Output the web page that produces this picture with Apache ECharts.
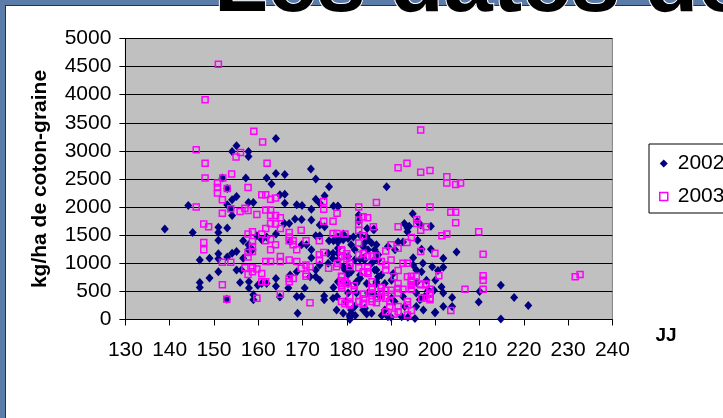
<!DOCTYPE html>
<html>
<head>
<meta charset="utf-8">
<script src="https://cdn.jsdelivr.net/npm/echarts@6/dist/echarts.min.js"></script>
<style>
html,body{margin:0;padding:0;background:#5B7BA9;overflow:hidden;}
#wrap{position:relative;width:723px;height:418px;overflow:hidden;}
#panel{position:absolute;left:5px;top:5px;width:760px;height:460px;background:#fff;border:1px solid #303030;box-sizing:border-box;}
#chart{position:absolute;left:0;top:0;width:723px;height:418px;}
</style>
</head>
<body>
<div id="wrap"><div id="panel"></div><div id="chart"></div></div>
<script>
var titleText = "Les dates de semis";
var yAxisTitle = "kg/ha de coton-graine";
var xAxisTitle = "JJ";
var seriesNames = ["2002", "2003"];

var data2002 = [
[164,3220],[155.1,3090],[154.1,2990],[157.8,2990],[157.8,2900],[171.9,2680],[164,2600],[166,2580],[151.9,2520],[157.2,2520],[161.9,2520],[173,2500],
[189,2360],[194.9,1880],[193,1710],[194.1,1660],[199,1660],[186,1600],[196,1410],[199,1250],[204.8,1200],[196.9,1250],[201.8,1090],[201.8,930],[214.8,610],[217.8,390],[221,250],[214.8,10],[209.8,310],[210,500],[201.8,470],[203.8,390],[203.8,230],[201.8,230],[200,130],[200,700],[195.8,660],
[153,2330],[144.2,2030],[153,2040],[153.8,1970],[154.1,1850],[138.9,1610],[145.2,1550],[151,1640],[151,1550],[153,1630],[151,1410],[151,1170],[151,1080],[149,1090],[146.8,1060],[153,1110],[154.1,1180],[151,850],[149,740],[146.8,660],[146.8,570],[152.9,360],
[155.1,1210],[163,2410],[176,2360],[175,2200],[155.1,2190],[154.1,2130],[157.8,2080],[158.9,2080],[166,2230],[164.9,2220],[166,2070],[168.7,2040],[169.9,2030],[173,2140],[173.9,2070],[177,2020],[178,2020],
[155.1,880],[156.2,880],[157.8,1330],[157.8,1240],[158.7,1240],[156.6,1400],[156.6,1090],[159.7,1490],[160.8,1420],[161.9,1470],[164,1520],[165.9,1710],[167,1710],[168.3,1790],[169.8,1780],[167.2,1390],[169.8,1330],[170.9,1330],[172,1770],[172,1960],[172,1240],[172,1100],[173.9,1680],[175,1650],[176,1400],[177,1400],[178,1400],[173,1490],[173.9,1490],[175.8,1180],[176.9,1180],[178,1180],[178,1060],[176.8,1090],[175.8,1000],[173.9,970],[173,880],[171.7,760],[173,760],[173.9,700],[168.7,850],[167.2,790],[168.7,410],[164,730],[164,590],[161.9,640],[160.8,640],[157.9,670],[157.9,560],[159.9,610],[155.9,660],[158.9,440],[158.9,350],[164.9,400],[166.8,560],[169.8,410],[170.5,560],[174.9,420],[174.9,350],[176.9,380],[177,570],[168.9,110],[177.8,410],[179.8,320],[180.7,50],[181,170],[183.7,170],[184.5,100],[180.3,800],[182.2,640],[183,730],[183.7,1300],[184.8,1420],[185.6,1360],[184.6,1620],[186.2,1600],[183,1500],[184.5,1470],[183,1070],[184,1060],[186.2,1060],[187.1,1150],[179.2,1520],[179.2,1420],[180.3,1440],[181.5,1470],[179.2,940],[180.3,940],[186.7,880],[187.1,760],[186.7,640],
[178,2010],[182.7,1860],[182.7,1750],[195.9,1750],[196.7,1680],[193.7,1630],[193.7,1560],[191.6,1380],[192.7,1380],[189.3,1300],[190.9,1240],[195,1100],[195,970],[195.7,880],[196.9,850],[199.3,940],[200.6,870],[201.4,580],[199.7,520],[199.9,120],
[178,1470],[178,1380],[178,1270],[181,1330],[181.8,1240],[184,1360],[184.8,1240],[186.3,1240],[186.7,1330],[180.3,1120],[181.8,1060],[183.7,1090],[185.6,1000],[187.1,1060],[179.6,880],[181,850],[183,790],[186.3,880],[187.8,790],[178,670],[180.3,640],[182.2,670],[184.5,640],[186.7,670],[188.6,640],[190.1,700],[190.5,820],[180.3,470],[182.2,470],[184.8,470],[186.3,440],[187.5,410],[190.1,380],[190.8,320],[192.7,410],[193.1,230],[195.7,470],[196.9,380],[195.7,230],[197.3,170],[177.7,170],[179.2,110],[180.7,80],[181.8,230],[184.1,200],[185.6,110],[188.6,170],[189.3,50],[192.4,50],[195.4,20],[197.6,410],[198.4,520],[198,700],[197.2,1000],[196.5,350],
[180.7,0],[181.1,100],[181.9,70],[187.9,70],[190,40],[193.8,40]
];

var data2003 = [
[151,4540],[148,3910],[159,3350],[161,3160],[146,3020],[156,2970],[155,2890],[148,2780],[162,2780],[154,2590],[148,2520],[152,2520],
[196.7,3370],[191.6,2700],[193.6,2780],[196.7,2620],[198.8,2650],[202.6,2540],[202.6,2430],[204.6,2400],[205.7,2430],[186.7,2080],[198.8,2000],[203.5,1910],[204.6,1910],[204.6,1720],[195.8,1780],[195.8,1710],[196.7,1590],[197.9,1650],[191.6,1650],[209.8,1560],[201.5,1490],[202.6,1520],[194.6,1460],[193.6,1370],[199.9,1180],[210.8,1160],[196.7,1210],[200.8,780],[210.8,780],[210.8,700],[210.8,540],[206.7,540],[231.6,760],[232.7,800],[203.5,160],[196.9,380],[197.9,380],[198.8,350],[198.8,470],[194.6,700],[194.6,610],[196.6,630],[197.9,630],
[150.8,2430],[150.8,2350],[150.8,2250],[153,2330],[151.9,2130],[146,2000],[153.8,1970],[151.9,1890],[147.7,1700],[148.8,1650],[147.7,1370],[147.7,1240],[151.9,1020],[153.8,1020],[151.9,620],[152.9,360],
[157.7,2350],[160.8,2220],[161.7,2220],[162.8,2140],[163.9,2160],[155.9,1920],[157,1980],[157.7,1940],[159.7,1870],[161.7,1950],[162.8,1950],[162.8,1850],[163.9,1850],[165,1810],[162.8,1710],[163.9,1700],[161.7,1620],[160.8,1520],[165,1620],[158.7,1560],[157.7,1520],[167,1550],[167,1470],[169.7,1590],[158.7,1390],[158.7,1300],[158.7,1210],[161.7,1400],[162.8,1430],[163.9,1330],[162.8,1240],[167,1400],[167.9,1400],[167.9,1330],[168.7,1240],[170.8,1400],[173.8,1400],[157.7,1190],[157.7,1110],[161.7,1030],[162.8,1030],[165,1120],[165,1030],[167,1060],[168.7,1030],[170.8,970],[170.8,810],[170.8,770],[171.7,940],[169.7,910],[157,920],[158.7,920],[158.7,850],[159.7,900],[160.8,820],[157.7,800],[160.8,670],[161.7,670],[167,730],[167.9,730],[167,670],[159.7,380],[165,450],[171.7,300],[173.8,1150],[173.8,1060],[174.8,1190],[174.8,2100],[174.8,1960],[174.8,1750],[176.9,1750],[177.8,1890],[175.9,910],[176.9,1530],[177.8,1530],[178.9,1220],[179.6,1120],[180,1170],[180,1080],[178.9,760],[178.9,640],[178.9,560],[180,640],[177.7,940],[180.7,940],[182.7,2000],[182.7,1770],[183.7,1830],[184.7,1810],[182.7,1690],[182.7,1590],[183.7,1490],[182.7,1360],[182.7,1150],[183.7,1180],[184.7,1120],[186,1650],[182.7,920],[184.7,920],[183.7,840],[184.7,850],[185.7,560],[185.7,470],[185.7,370],[186.7,300],[183.7,450],[182.7,320],[183.7,270],[181.7,600],[181.7,530],[180.7,420],[180.7,260],
[179.6,1520],[190,1330],[188.8,1220],[191.6,1270],[178.8,1240],[178.8,1130],[185.7,1130],[186.7,1130],[187.8,1030],[188.8,970],[188.8,880],[190,1060],[192.7,1000],[193.7,1000],[177.9,1000],[180.7,1000],[183.8,850],[184.8,820],[191.6,870],[194.6,770],[195.7,770],[190.7,760],[178.8,770],[178.8,690],[178.8,600],[179.6,680],[185.7,670],[185.7,540],[183.8,450],[183.8,370],[187.8,570],[187.8,500],[188.8,520],[190,520],[190,450],[191.6,640],[191.6,550],[191.6,470],[193.7,760],[194.6,670],[192.7,540],[196.7,620],[197.8,620],[198.8,540],[198.8,450],[198.8,380],[194.6,620],[194.6,540],[178.8,320],[179.6,280],[180.7,280],[182.7,320],[183.8,290],[185.7,320],[186.9,380],[187.8,410],[188.8,380],[189.7,320],[189.7,230],[191.6,230],[191.6,140],[188.8,140],[193.7,320],[193.7,260],[194.6,160],[193.7,80],[190.7,100]
];

var xMin = 130, xMax = 240, xStep = 10;
var yMin = 0, yMax = 5000, yStep = 500;

var chart = echarts.init(document.getElementById('chart'));
var font = 'Liberation Sans, Arial, sans-serif';
chart.setOption({
  backgroundColor: 'transparent',
  animation: false,
  textStyle: { fontFamily: font },
  graphic: [
    { type: 'text', z: 20, left: 213, top: -58,
      style: { text: titleText, font: 'bold 88px ' + font, fill: '#000', stroke: '#fff', lineWidth: 2 } }
  ],
  grid: { left: 125.4, right: 110.6, top: 38.5, bottom: 98.5, show: true, z: 1,
          backgroundColor: '#C0C0C0', borderColor: '#808080', borderWidth: 1 },
  legend: {
    orient: 'vertical', left: 649, top: 144, z: 5,
    padding: [9, 60, 6, 10], itemGap: 12,
    itemWidth: 8, itemHeight: 8,
    backgroundColor: '#fff', borderColor: '#000', borderWidth: 1,
    textStyle: { fontSize: 21, color: '#000', fontFamily: font, padding: [0, 0, 0, 5] },
    data: [
      { name: seriesNames[0], icon: 'diamond', itemStyle: { color: '#000080' } },
      { name: seriesNames[1], icon: 'rect', itemStyle: { color: 'rgba(0,0,0,0)', borderColor: '#FF00FF', borderWidth: 1.5 } }
    ]
  },
  xAxis: {
    type: 'value', min: xMin, max: xMax, interval: xStep, z: 5,
    name: xAxisTitle, nameLocation: 'end', nameGap: 43,
    nameTextStyle: { fontSize: 19, fontWeight: 'bold', color: '#000', verticalAlign: 'top', padding: [7, 0, 0, 0] },
    axisLine: { onZero: false, lineStyle: { color: '#000', width: 1 } },
    axisTick: { show: true, inside: false, length: 6, lineStyle: { color: '#000' } },
    axisLabel: { fontSize: 21, color: '#000', margin: 20, formatter: function (v) { return String(v); } },
    splitLine: { show: false }
  },
  yAxis: {
    type: 'value', min: yMin, max: yMax, interval: yStep, z: 5,
    name: yAxisTitle, nameLocation: 'middle', nameGap: 75,
    nameTextStyle: { fontSize: 21, fontWeight: 'bold', color: '#000' },
    axisLine: { show: true, lineStyle: { color: '#000', width: 1 } },
    axisTick: { show: true, inside: false, length: 6, lineStyle: { color: '#000' } },
    axisLabel: { fontSize: 21, color: '#000', margin: 14, formatter: function (v) { return String(v); } },
    splitLine: { show: true, lineStyle: { color: '#000', width: 1 } }
  },
  series: [
    { name: seriesNames[0], type: 'scatter', data: data2002, clip: false,
      symbol: 'diamond', symbolSize: [8, 9], z: 6,
      itemStyle: { color: '#000080', opacity: 1 } },
    { name: seriesNames[1], type: 'scatter', data: data2003, clip: false,
      symbol: 'rect', symbolSize: 6, z: 7,
      itemStyle: { color: 'rgba(0,0,0,0)', borderColor: '#FF00FF', borderWidth: 1.5, opacity: 1 } }
  ]
});
</script>
</body>
</html>
